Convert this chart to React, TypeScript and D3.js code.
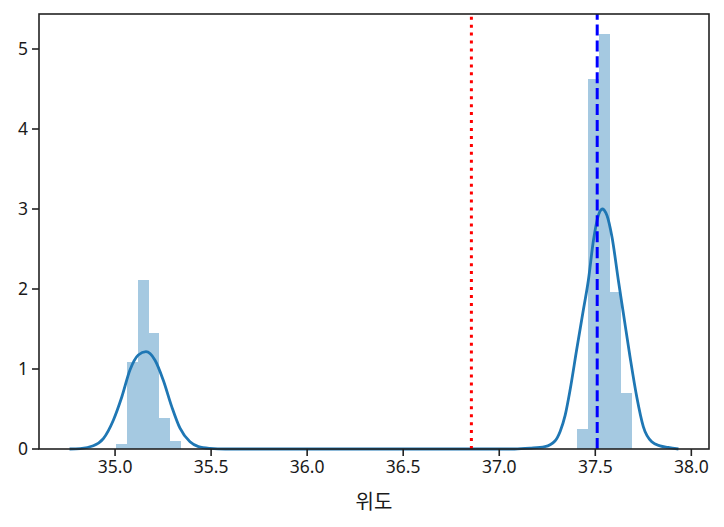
import React from "react";
import * as d3 from "d3";

// Histogram (density) bins: start of each non-empty bin and its density
const binStarts = [35.005, 35.061, 35.117, 35.173, 35.228, 35.284, 37.407, 37.463, 37.519, 37.575, 37.631];
const binDensity = [0.065, 1.09, 2.11, 1.45, 0.39, 0.10, 0.25, 4.62, 5.19, 1.96, 0.70];
const binWidth = 0.05585;

// KDE curve
const kdeX = [
  34.763, 34.818, 34.887, 34.939, 34.991, 35.035, 35.078, 35.121, 35.161, 35.208, 35.251, 35.295, 35.338, 35.39, 35.434, 35.495, 35.573,
  37.08, 37.16, 37.238, 37.29, 37.317, 37.343, 37.369, 37.403, 37.438, 37.464, 37.49, 37.516, 37.53, 37.539, 37.548, 37.561, 37.587,
  37.62, 37.646, 37.681, 37.716, 37.75, 37.794, 37.837, 37.879, 37.933,
];
const kdeY = [
  0.0, 0.005, 0.04, 0.13, 0.36, 0.65, 0.99, 1.175, 1.216, 1.11, 0.86, 0.53, 0.26, 0.09, 0.03, 0.008, 0.0,
  0.0, 0.01, 0.03, 0.1, 0.22, 0.42, 0.74, 1.24, 1.74, 2.11, 2.6, 2.92, 2.99, 3.0, 2.98, 2.92, 2.65,
  2.11, 1.7, 1.15, 0.65, 0.28, 0.09, 0.04, 0.02, 0.0,
];

const meanValue = 36.855;
const medianValue = 37.51;

const xTicks = [35.0, 35.5, 36.0, 36.5, 37.0, 37.5, 38.0];
const yTicks = [0, 1, 2, 3, 4, 5];
const xDomain = [34.604, 38.092];
const yDomain = [0, 5.4375];
const xLabel = "위도";

export default function App() {
  const W = 724, H = 527;
  const L = 39, R = 709, T = 14, B = 449;
  const x = d3.scaleLinear().domain(xDomain).range([L, R]);
  const y = d3.scaleLinear().domain(yDomain).range([B, T]);
  const pts = kdeX.map((v, i) => [v, kdeY[i]] as [number, number]);
  const line = d3
    .line<[number, number]>()
    .x((d) => x(d[0]))
    .y((d) => y(d[1]))
    .curve(d3.curveMonotoneX);
  const font = "'Noto Sans', 'Noto Sans CJK KR', sans-serif";
  const textColor = "#1a1a1a";
  const spine = "#222";
  return (
    <svg width={W} height={H} style={{ position: "absolute", left: 0, top: 0, background: "#fff" }}>
      <rect x={0} y={0} width={W} height={H} fill="#fff" />
      <g shapeRendering="crispEdges">
        {binStarts.map((s, i) => (
          <rect
            key={i}
            x={x(s)}
            y={y(binDensity[i])}
            width={x(s + binWidth) - x(s) + 0.4}
            height={y(0) - y(binDensity[i])}
            fill="#a5c9e1"
          />
        ))}
      </g>
      <path d={line(pts) || ""} fill="none" stroke="#1f77b4" strokeWidth={2.8} strokeLinejoin="round" />
      <line
        x1={x(meanValue)}
        x2={x(meanValue)}
        y1={B}
        y2={T}
        stroke="red"
        strokeWidth={3}
        strokeDasharray="3 4.95"
      />
      <line
        x1={x(medianValue)}
        x2={x(medianValue)}
        y1={B}
        y2={T}
        stroke="blue"
        strokeWidth={3}
        strokeDasharray="11.1 4.8"
      />
      {/* spines */}
      <rect x={L} y={T} width={R - L} height={B - T} fill="none" stroke={spine} strokeWidth={1.6} />
      {xTicks.map((t) => (
        <g key={t} transform={`translate(${x(t)},${B})`}>
          <line y1={0} y2={7} stroke={spine} strokeWidth={1.6} />
          <text y={24} textAnchor="middle" fontSize={17.5} fontFamily={font} fill={textColor}>
            {t.toFixed(1)}
          </text>
        </g>
      ))}
      {yTicks.map((t) => (
        <g key={t} transform={`translate(${L},${y(t)})`}>
          <line x1={0} x2={-7} stroke={spine} strokeWidth={1.6} />
          <text x={-11} dy="0.36em" textAnchor="end" fontSize={17.5} fontFamily={font} fill={textColor}>
            {t}
          </text>
        </g>
      ))}
      <text
        x={(L + R) / 2}
        y={509}
        textAnchor="middle"
        fontSize={20}
        fontFamily="'Noto Sans CJK KR', sans-serif"
        fill={textColor}
      >
        {xLabel}
      </text>
    </svg>
  );
}
